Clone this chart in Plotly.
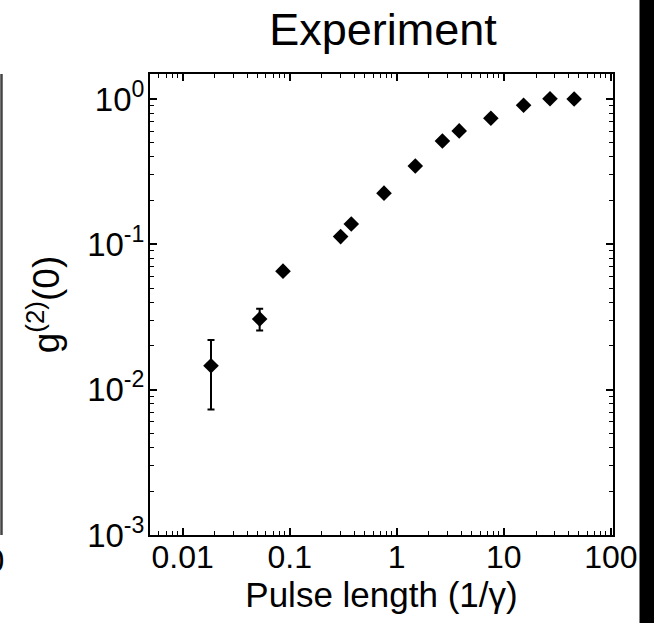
import plotly.graph_objects as go

# Data
pulse_length = [0.0184, 0.0524, 0.0866, 0.299, 0.376, 0.76, 1.49, 2.67, 3.83, 7.57, 15.3, 27.0, 45.4]
g2_zero = [0.0146, 0.0306, 0.0654, 0.113, 0.138, 0.225, 0.346, 0.514, 0.603, 0.737, 0.905, 1.005, 1.0]
err_plus = [0.0074, 0.0054, 0.0028, 0.0035, 0.004, 0, 0, 0, 0, 0, 0, 0, 0]
err_minus = [0.0073, 0.0051, 0.0026, 0.0033, 0.004, 0, 0, 0, 0, 0, 0, 0, 0]

x_tickvals = [0.01, 0.1, 1, 10, 100]
x_ticktext = ["0.01", "0.1", "1", "10", "100"]
y_tickvals = [1e-3, 1e-2, 1e-1, 1]
y_ticktext = ["10<sup>-3</sup>", "10<sup>-2</sup>", "10<sup>-1</sup>", "10<sup>0</sup>"]

x_minor = [k * 10.0 ** d for d in range(-3, 2) for k in range(2, 10)]
y_minor = [k * 10.0 ** d for d in range(-3, 0) for k in range(2, 10)]

FONT = "Liberation Sans, Arial, Helvetica, sans-serif"

fig = go.Figure()
fig.add_trace(go.Scatter(
    x=pulse_length, y=g2_zero, mode="markers",
    marker=dict(symbol="diamond", size=12, color="black"),
    error_y=dict(type="data", symmetric=False, array=err_plus, arrayminus=err_minus,
                 color="black", thickness=2, width=3.5),
    showlegend=False,
))

L, R, T, B = 150, 41, 74, 88
W, H = 654, 623
pw, ph = W - L - R, H - T - B

def px_x(p):
    return (p - L) / pw

def px_y(p):
    return (H - B - p) / ph

axis_common = dict(
    type="log", showline=True, linecolor="black", linewidth=2, mirror="ticks",
    ticks="inside", ticklen=7, tickwidth=1.5, tickcolor="black",
    showgrid=False, zeroline=False, tickmode="array",
)

fig.update_xaxes(
    **axis_common, range=[-2.305, 2.02],
    tickvals=x_tickvals, ticktext=x_ticktext,
    tickfont=dict(family=FONT, size=32, color="black"),
    minor=dict(tickmode="array", tickvals=x_minor, ticks="inside", ticklen=4,
               tickwidth=1.2, tickcolor="black", showgrid=False),
    title=dict(text="Pulse length (1/γ)", font=dict(family=FONT, size=35, color="black"), standoff=2),
    ticklabelstandoff=-7,
)
fig.update_yaxes(
    **axis_common, range=[-3, 0.172],
    tickvals=y_tickvals, ticktext=y_ticktext,
    tickfont=dict(family=FONT, size=33, color="black"),
    minor=dict(tickmode="array", tickvals=y_minor, ticks="inside", ticklen=4,
               tickwidth=1.2, tickcolor="black", showgrid=False),
    title=dict(text="g<sup>(2)</sup>(0)", font=dict(family=FONT, size=37, color="black"), standoff=16),
    ticklabelstandoff=-3,
)

fig.update_layout(
    width=W, height=H,
    margin=dict(l=L, r=R, t=T, b=B, autoexpand=False),
    paper_bgcolor="white", plot_bgcolor="white",
    title=dict(text="Experiment", x=383 / W, xanchor="center",
               y=1 - 29 / H, yanchor="middle",
               font=dict(family=FONT, size=45, color="black")),
    shapes=[
        # edge of neighbouring panel on the left
        dict(type="line", xref="paper", yref="paper", x0=px_x(1.5), x1=px_x(1.5),
             y0=0, y1=1, line=dict(color="#444444", width=2.5)),
        # black strip on the right edge
        dict(type="rect", xref="paper", yref="paper", x0=px_x(639.5), x1=px_x(700),
             y0=px_y(640), y1=px_y(-20), fillcolor="black", line=dict(width=0), layer="above"),
    ],
    annotations=[
        dict(text="0", xref="paper", yref="paper", x=px_x(6), y=px_y(560),
             xanchor="right", yanchor="middle", showarrow=False,
             font=dict(family=FONT, size=33, color="black")),
    ],
)

fig.write_html("out.html")
